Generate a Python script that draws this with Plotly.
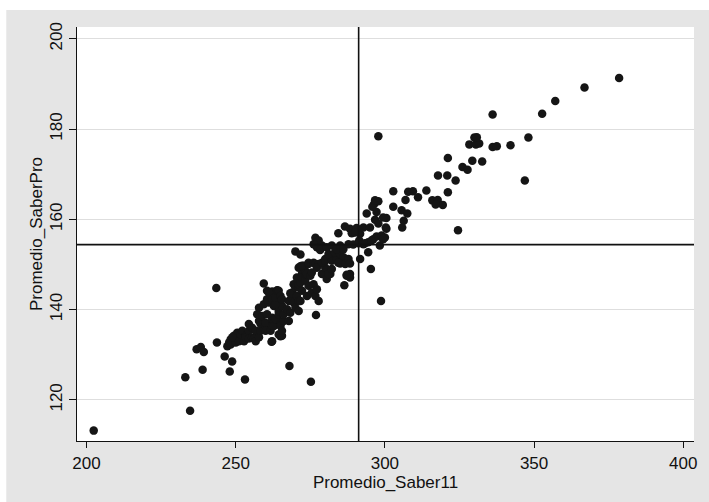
import plotly.graph_objects as go

saber11 = [
    202.4, 233.1, 234.7, 236.9, 238.3, 239.3, 238.9, 243.5, 243.7, 246.3, 248.8, 248.0, 253.1, 247.2, 268.0, 275.2, 276.9, 262.0, 265.0,
    248.3, 247.8, 248.3, 249.4, 250.5, 250.0, 250.5, 248.9, 251.1, 251.7, 252.2, 253.3, 252.8, 253.3, 254.4, 254.4, 254.4, 255.5, 255.5,
    256.1, 256.7, 256.7, 257.8, 258.3, 258.3, 257.8, 257.2, 258.9, 257.8, 259.4, 260.0, 260.0, 260.0, 260.5, 261.1, 261.7, 262.2, 262.2,
    262.2, 262.2, 262.8, 262.8, 262.8, 263.9, 263.9, 263.3, 264.4, 264.4, 264.4, 265.0, 265.0, 265.5, 265.5, 265.5, 266.1, 266.1,
    259.4, 260.5, 262.2, 263.9, 260.5, 261.1, 262.2, 263.3, 263.3, 263.9, 264.4, 265.0, 265.5, 267.2, 267.8, 267.8, 268.3, 268.9, 268.9,
    268.3, 269.4, 269.4, 270.0, 270.0, 270.5, 270.5, 271.1, 271.1, 271.1, 271.1, 271.1, 271.7, 271.7, 272.2, 272.2, 272.2, 273.3, 273.3,
    273.3, 273.9, 273.9, 274.4, 275.0, 275.5, 275.5, 276.1, 276.7, 277.2, 277.8, 278.9, 280.0, 280.5, 281.7, 281.1, 282.2,
    270.0, 271.7, 271.7, 272.8, 272.2, 274.4, 274.4, 276.1, 276.7, 277.8, 277.2, 278.9, 280.0, 280.0, 281.7, 282.2, 283.9, 281.1, 283.3,
    285.0, 286.1, 285.0, 284.4, 286.7, 287.8, 288.3, 288.3, 287.2, 288.3, 287.2, 286.4,
    276.7, 277.8, 276.1, 277.2, 278.9, 278.3, 280.5, 282.2, 283.9, 285.0, 286.1, 287.8, 289.4, 291.1, 292.8, 294.4, 296.1, 297.2,
    284.4, 286.6, 288.3, 290.5, 288.9, 291.7, 290.0, 291.4, 293.3, 295.5, 298.9, 300.0, 298.3, 299.4, 294.4, 291.7, 295.3, 298.7,
    292.8, 295.0, 296.7, 297.8, 300.5, 300.5, 299.4, 300.3, 297.2, 293.9, 296.4, 297.8, 295.8, 296.7, 297.8,
    302.8, 307.8, 309.4, 313.9, 311.1, 306.9, 302.8, 305.6, 307.5, 306.3, 305.8, 315.9, 317.7, 319.4, 317.0, 321.1, 317.8, 320.9,
    323.7, 321.1, 326.0, 327.7, 329.3, 332.6, 328.3, 330.5, 331.6, 330.0, 330.8, 324.5, 336.1, 336.1, 337.5, 342.1, 348.1, 346.9,
    352.7, 357.1, 366.9, 378.5,
]

saberpro = [
    113.2, 125.0, 117.6, 131.2, 131.7, 130.6, 126.7, 144.8, 132.7, 129.6, 128.5, 126.3, 124.5, 131.9, 127.5, 124.0, 138.8, 132.9, 134.1,
    133.4, 132.7, 132.3, 134.2, 133.8, 132.7, 134.9, 133.9, 133.0, 134.5, 135.3, 134.2, 133.0, 133.8, 133.6, 135.3, 136.8, 136.0, 133.8,
    133.6, 135.3, 133.0, 133.9, 135.3, 136.9, 137.5, 139.0, 138.6, 140.4, 141.2, 136.4, 137.1, 135.3, 139.0, 141.6, 135.3, 138.2, 137.5,
    133.0, 136.4, 137.1, 140.8, 136.4, 141.2, 137.9, 137.9, 139.0, 139.7, 134.5, 136.8, 136.4, 134.2, 135.3, 140.8, 137.5, 139.0,
    145.8, 144.2, 144.0, 144.3, 142.3, 143.8, 142.3, 141.2, 142.7, 144.2, 144.2, 143.0, 142.3, 140.1, 141.9, 137.5, 139.3, 143.8, 142.3,
    143.6, 141.6, 145.6, 140.4, 144.9, 143.0, 147.1, 139.7, 141.9, 144.9, 145.6, 149.3, 141.9, 146.0, 147.9, 144.2, 147.1, 146.4, 147.9,
    148.6, 143.0, 147.9, 145.3, 147.5, 143.8, 148.2, 145.6, 143.0, 144.5, 141.9, 147.9, 149.3, 146.8, 147.9, 147.9, 149.0,
    152.9, 152.2, 149.6, 149.7, 149.7, 150.1, 150.4, 150.4, 150.1, 150.1, 149.3, 150.4, 151.2, 150.8, 151.6, 150.8, 151.2, 152.3, 152.7,
    152.3, 151.6, 150.2, 150.4, 150.1, 151.2, 150.2, 147.9, 147.5, 147.1, 147.7, 145.4,
    155.9, 155.3, 154.5, 153.8, 154.2, 153.2, 153.8, 154.2, 153.4, 154.2, 153.4, 154.5, 154.4, 154.7, 154.5, 154.9, 155.6, 156.2,
    156.9, 158.4, 157.9, 158.1, 156.9, 156.8, 157.1, 155.3, 154.7, 155.3, 156.4, 156.0, 154.2, 155.6, 152.7, 151.2, 149.0, 141.9,
    158.2, 158.2, 159.9, 159.1, 157.9, 160.3, 160.4, 158.2, 161.6, 161.3, 163.4, 164.0, 162.8, 164.2, 178.4,
    166.2, 166.1, 166.2, 166.4, 164.9, 164.3, 162.8, 162.0, 161.3, 159.7, 158.2, 164.2, 164.3, 163.2, 163.3, 166.0, 169.7, 169.7,
    168.6, 173.6, 171.6, 171.0, 173.0, 172.8, 176.6, 176.6, 176.8, 178.1, 178.2, 157.6, 183.2, 176.0, 176.2, 176.4, 178.1, 168.6,
    183.4, 186.2, 189.2, 191.3,
]

x_ticks = [200, 250, 300, 350, 400]
y_ticks = [120, 140, 160, 180, 200]
x_ref = 291.2
y_ref = 154.4
x_range = [196.8, 403.6]
y_range = [110.9, 202.6]

FONT = "Liberation Sans, Arial, Helvetica, sans-serif"

fig = go.Figure()
fig.add_trace(go.Scatter(
    x=saber11, y=saberpro, mode="markers",
    marker=dict(size=8.5, color="#151515", line=dict(width=0)),
    showlegend=False, hoverinfo="x+y",
))

fig.add_shape(type="line", xref="x", yref="paper", x0=x_ref, x1=x_ref, y0=0, y1=1,
              line=dict(color="#111111", width=1.6))
fig.add_shape(type="line", xref="paper", yref="y", x0=0, x1=1, y0=y_ref, y1=y_ref,
              line=dict(color="#111111", width=1.6))

# white border strips outside the grey frame
fig.add_shape(type="rect", xref="paper", yref="paper", x0=-0.2, x1=-0.1146, y0=-0.2, y1=1.2,
              fillcolor="white", line=dict(width=0), layer="below")
fig.add_shape(type="rect", xref="paper", yref="paper", x0=-0.2, x1=1.2, y0=1.0411, y1=1.2,
              fillcolor="white", line=dict(width=0), layer="below")

fig.update_layout(
    width=709, height=502,
    margin=dict(l=77, r=12, t=27, b=61),
    paper_bgcolor="#e5e5e5",
    plot_bgcolor="white",
    font=dict(family=FONT, size=17, color="#111111"),
    xaxis=dict(
        range=x_range, tickvals=x_ticks, ticktext=[str(v) for v in x_ticks],
        showgrid=False, zeroline=False,
        showline=True, linecolor="#111111", linewidth=1.3,
        ticks="outside", ticklen=6, tickwidth=1.3, tickcolor="#111111",
        tickfont=dict(size=17, family=FONT),
        title=dict(text="Promedio_Saber11", font=dict(size=17, family=FONT), standoff=0),
    ),
    yaxis=dict(
        range=y_range, tickvals=y_ticks, ticktext=[str(v) for v in y_ticks],
        showgrid=True, gridcolor="#dedede", gridwidth=1.3, zeroline=False,
        showline=True, linecolor="#111111", linewidth=1.3,
        ticks="outside", ticklen=7, tickwidth=1.3, tickcolor="#111111",
        tickangle=-90, tickfont=dict(size=17, family=FONT),
        title=dict(text="Promedio_SaberPro", font=dict(size=17, family=FONT), standoff=0),
    ),
)

fig.write_html("out.html")
